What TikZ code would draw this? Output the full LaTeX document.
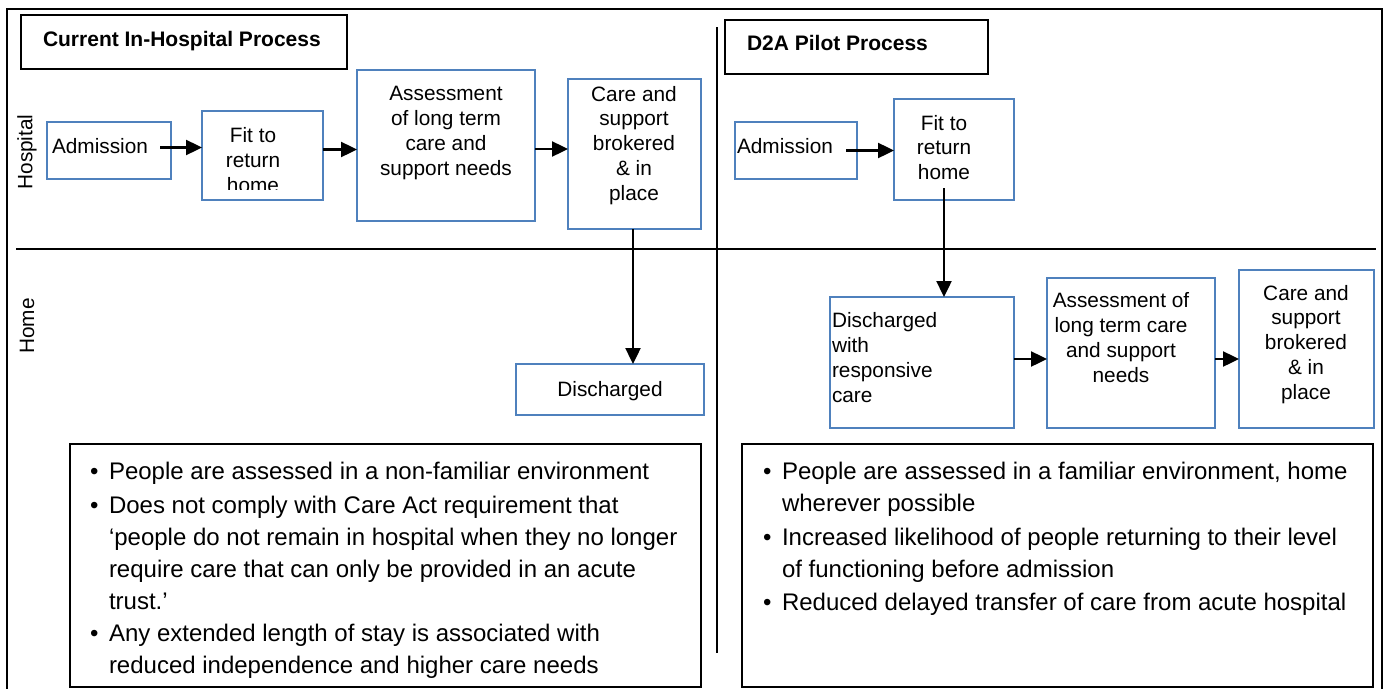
\documentclass[tikz,border=0pt]{standalone}
\usepackage{fontspec}
\setmainfont{Liberation Sans}
\usetikzlibrary{arrows.meta}
\definecolor{boxblue}{RGB}{79,129,189}
\tikzset{
  every node/.style={inner sep=0pt, outer sep=0pt},
  bbox/.style={draw=boxblue, line width=2.2pt, rectangle},
  kbox/.style={draw=black, line width=2pt, rectangle},
  frameline/.style={draw=black, line width=1.8pt},
  arr/.style={draw=black, line width=2.4pt, -{Triangle[length=16pt,width=15pt]}},
  btxt/.style={font=\fontsize{20.8}{24.7}\selectfont, align=center, anchor=base},
  ltxt/.style={font=\fontsize{20.8}{24.7}\selectfont, align=left, anchor=base west},
  htxt/.style={font=\fontsize{21}{25}\selectfont\bfseries, anchor=base west},
  side/.style={font=\fontsize{20.8}{24.7}\selectfont, rotate=90},
  bul/.style={font=\fontsize{24}{32}\selectfont, anchor=base west},
  bultxt/.style={font=\fontsize{24}{32}\selectfont, align=left, anchor=base west},
}
\begin{document}
\begin{tikzpicture}[x=1pt,y=-1pt]
\useasboundingbox (0,0) rectangle (1384,688);
\clip (0,0) rectangle (1384,688);
% outer frame and dividers
\draw[frameline] (7,9) rectangle (1382,700);
\coordinate (hl) at (16,249);
\coordinate (hr) at (1376,249);
\draw[frameline] (hl) -- (hr);
\coordinate (vt) at (717,27);
\coordinate (vb) at (717,653);
\draw[frameline] (vt) -- (vb);
% side labels
\node[side] (lhosp) at (27,152) {Hospital};
\node[side] (lhome) at (27,326) {Home};
% headers
\node[kbox, minimum width=326pt, minimum height=54pt] (hd1) at (184,42) {};
\node[htxt] (hd1t) at (43,46) {Current In-Hospital Process};
\node[kbox, minimum width=263pt, minimum height=54pt] (hd2) at (856.5,47) {};
\node[htxt] (hd2t) at (747,50) {D2A Pilot Process};
% left process boxes
\node[bbox, minimum width=124pt, minimum height=57pt] (adm1) at (109,150.5) {};
\node[ltxt] (adm1t) at (52,153) {Admission};
\node[bbox, minimum width=121pt, minimum height=89pt] (fit1) at (262.5,155.5) {};
\begin{scope}
\clip (203,112) rectangle (322,189);
\node[btxt] (fit1t) at (253,192) {Fit to\\return\\home};
\end{scope}
\node[bbox, minimum width=178pt, minimum height=151pt] (ass1) at (446,145.5) {};
\node[btxt] (ass1t) at (446,175) {Assessment\\of long term\\care and\\support needs};
\node[bbox, minimum width=133pt, minimum height=150pt] (care1) at (634.5,154) {};
\node[btxt] (care1t) at (634,200) {Care and\\support\\brokered\\\& in\\place};
\node[bbox, minimum width=188pt, minimum height=51pt] (dis1) at (610,389.5) {};
\node[btxt] (dis1t) at (610,396) {Discharged};
% right process boxes
\node[bbox, minimum width=122pt, minimum height=57pt] (adm2) at (796,150.5) {};
\node[ltxt] (adm2t) at (737,153) {Admission};
\node[bbox, minimum width=120pt, minimum height=101pt] (fit2) at (954,149.5) {};
\node[btxt] (fit2t) at (944,179.4) {Fit to\\return\\home};
\node[bbox, minimum width=184pt, minimum height=131pt] (dis2) at (922,362.5) {};
\node[ltxt] (dis2t) at (832,402) {Discharged\\with\\responsive\\care};
\node[bbox, minimum width=168pt, minimum height=150pt] (ass2) at (1131,353) {};
\node[btxt] (ass2t) at (1121,382) {Assessment of\\long term care\\and support\\needs};
\node[bbox, minimum width=135pt, minimum height=158pt] (care2) at (1306.5,349) {};
\node[btxt] (care2t) at (1306,399) {Care and\\support\\brokered\\\& in\\place};
% arrows left
\draw[arr] ([xshift=-11pt,yshift=3pt]adm1.east) -- ([yshift=3pt]adm1.east -| fit1.west);
\draw[arr] ([yshift=6pt]fit1.east) -- ([yshift=6pt]fit1.east -| ass1.west);
\draw[arr] ([yshift=-3.5pt]ass1.east) -- ([yshift=-3.5pt]ass1.east -| care1.west);
\draw[arr] ([xshift=-1.5pt]care1.south) -- ([xshift=-1.5pt]care1.south |- dis1.north);
% arrows right
\draw[arr] ([xshift=-11pt]adm2.east) -- (adm2.east -| fit2.west);
\coordinate (f2s) at ([xshift=-10pt,yshift=12pt]fit2.south);
\draw[arr] (f2s) -- (f2s |- dis2.north);
\draw[arr] ([yshift=3.5pt]dis2.east) -- ([yshift=3.5pt]dis2.east -| ass2.west);
\draw[arr] ([yshift=-6pt]ass2.east) -- ([yshift=-6pt]ass2.east -| care2.west);
% bullet boxes
\node[kbox, line width=1.8pt, minimum width=631pt, minimum height=243pt] (bl) at (385.5,565.5) {};
\node[kbox, line width=1.8pt, minimum width=631pt, minimum height=243pt] (br) at (1057.5,565.5) {};
\node[bul] (bl1b) at (90,479) {\textbullet};
\node[bultxt] (bl1) at (109,479) {People are assessed in a non-familiar environment};
\node[bul] (bl2b) at (90,513) {\textbullet};
\node[bultxt] (bl2) at (109,609) {Does not comply with Care Act requirement that\\‘people do not remain in hospital when they no longer\\require care that can only be provided in an acute\\trust.’};
\node[bul] (bl3b) at (90,641) {\textbullet};
\node[bultxt] (bl3) at (109,673) {Any extended length of stay is associated with\\reduced independence and higher care needs};
\node[bul] (br1b) at (763,479) {\textbullet};
\node[bultxt] (br1) at (782,511) {People are assessed in a familiar environment, home\\wherever possible};
\node[bul] (br2b) at (763,545) {\textbullet};
\node[bultxt] (br2) at (782,577) {Increased likelihood of people returning to their level\\of functioning before admission};
\node[bul] (br3b) at (763,610) {\textbullet};
\node[bultxt] (br3) at (782,610) {Reduced delayed transfer of care from acute hospital};
\end{tikzpicture}
\end{document}
